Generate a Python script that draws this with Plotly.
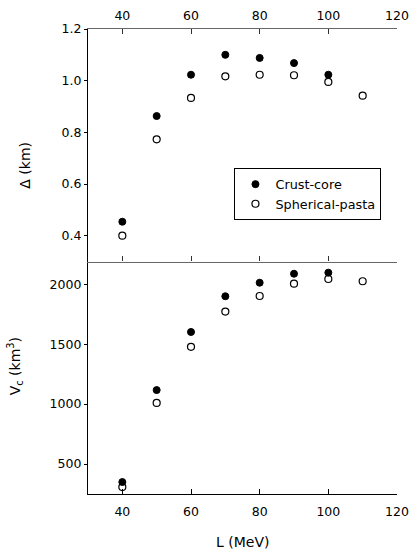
import plotly.graph_objects as go

L = [40, 50, 60, 70, 80, 90, 100]
L_pasta = [40, 50, 60, 70, 80, 90, 100, 110]

delta_cc = [0.454, 0.863, 1.023, 1.100, 1.088, 1.068, 1.023]
delta_sp = [0.400, 0.773, 0.933, 1.017, 1.023, 1.021, 0.995, 0.942]

vc_cc = [350, 1117, 1602, 1900, 2013, 2088, 2097]
vc_sp = [308, 1010, 1478, 1772, 1902, 2005, 2044, 2025]

x_ticks = [40, 60, 80, 100, 120]
FONT = "DejaVu Sans"
TF = dict(family=FONT, size=12.5, color="black")

fig = go.Figure()

filled = dict(symbol="circle", size=7, color="black", line=dict(color="black", width=1))
opened = dict(symbol="circle-open", size=7, color="black", line=dict(color="black", width=1.2))

fig.add_trace(go.Scatter(x=L, y=delta_cc, mode="markers", marker=filled,
                         name="Crust-core", xaxis="x2", yaxis="y2"))
fig.add_trace(go.Scatter(x=L_pasta, y=delta_sp, mode="markers", marker=opened,
                         name="Spherical-pasta", xaxis="x2", yaxis="y2"))
fig.add_trace(go.Scatter(x=L, y=vc_cc, mode="markers", marker=filled,
                         showlegend=False, xaxis="x", yaxis="y"))
fig.add_trace(go.Scatter(x=L_pasta, y=vc_sp, mode="markers", marker=opened,
                         showlegend=False, xaxis="x", yaxis="y"))

xr = [30, 120]
common_x = dict(range=xr, tickvals=x_ticks, showgrid=False, zeroline=False, automargin=False)

fig.update_layout(
    width=410, height=550,
    margin=dict(l=88, r=13, t=29, b=56, autoexpand=False),
    paper_bgcolor="white", plot_bgcolor="white",
    font=TF,
    showlegend=True,
    legend=dict(x=0.474, y=0.7004, xanchor="left", yanchor="top",
                bordercolor="black", borderwidth=1, bgcolor="white",
                font=dict(family=FONT, size=12.8, color="black"),
                tracegroupgap=0, itemwidth=30),
    xaxis=dict(**common_x, domain=[0, 1], anchor="y", side="bottom",
               showline=True, linecolor="black", linewidth=1.2,
               ticks="inside", ticklen=5, tickcolor="black",
               tickfont=TF, ticklabelstandoff=6),
    xaxis3=dict(**common_x, anchor="y", overlaying="x", side="top",
                showline=False, ticks="inside", ticklen=4, tickcolor="#333",
                showticklabels=False),
    xaxis2=dict(**common_x, domain=[0, 1], anchor="y2", side="top",
                showline=True, linecolor="#666", linewidth=1.2, mirror="ticks",
                ticks="inside", ticklen=5, tickcolor="#333",
                tickfont=TF, ticklabelstandoff=3),
    yaxis=dict(domain=[0, 0.5], anchor="x", range=[250, 2190], automargin=False,
               tickvals=[500, 1000, 1500, 2000], showgrid=False, zeroline=False,
               showline=True, linecolor="black", linewidth=1.2,
               ticks="outside", ticklen=3, tickcolor="black", tickfont=TF),
    yaxis3=dict(anchor="x", overlaying="y", side="right", range=[250, 2190], automargin=False,
                tickvals=[500, 1000, 1500, 2000], showgrid=False, zeroline=False,
                showline=True, linecolor="black", linewidth=1.2,
                ticks="inside", ticklen=4, tickcolor="#555", showticklabels=False),
    yaxis2=dict(domain=[0.5, 1], anchor="x2", range=[0.3, 1.2], automargin=False,
                tickvals=[0.4, 0.6, 0.8, 1.0, 1.2], ticktext=["0.4", "0.6", "0.8", "1.0", "1.2"],
                showgrid=False, zeroline=False,
                showline=True, linecolor="black", linewidth=1.2,
                ticks="outside", ticklen=3, tickcolor="black", tickfont=TF),
    yaxis4=dict(anchor="x2", overlaying="y2", side="right", range=[0.3, 1.2], automargin=False,
                tickvals=[0.4, 0.6, 0.8, 1.0, 1.2], showgrid=False, zeroline=False,
                showline=True, linecolor="black", linewidth=1.2,
                ticks="inside", ticklen=4, tickcolor="#555", showticklabels=False),
)

fig.add_annotation(text="L (MeV)", xref="paper", yref="paper", x=0.499, y=-0.1026,
                   showarrow=False, font=dict(family=FONT, size=14, color="black"),
                   xanchor="center", yanchor="middle")
fig.add_annotation(text="Δ (km)", xref="paper", yref="paper", x=-0.205, y=0.7075,
                   showarrow=False, textangle=-90, font=dict(family=FONT, size=14, color="black"),
                   xanchor="center", yanchor="middle")
fig.add_annotation(text="V<sub>c</sub> (km<sup>3</sup>)", xref="paper", yref="paper",
                   x=-0.237, y=0.274, showarrow=False, textangle=-90,
                   font=dict(family=FONT, size=14, color="black"),
                   xanchor="center", yanchor="middle")

fig.write_html("out.html", config={"displayModeBar": False},
               post_script="document.body.style.margin='0';document.body.style.overflow='hidden';")
